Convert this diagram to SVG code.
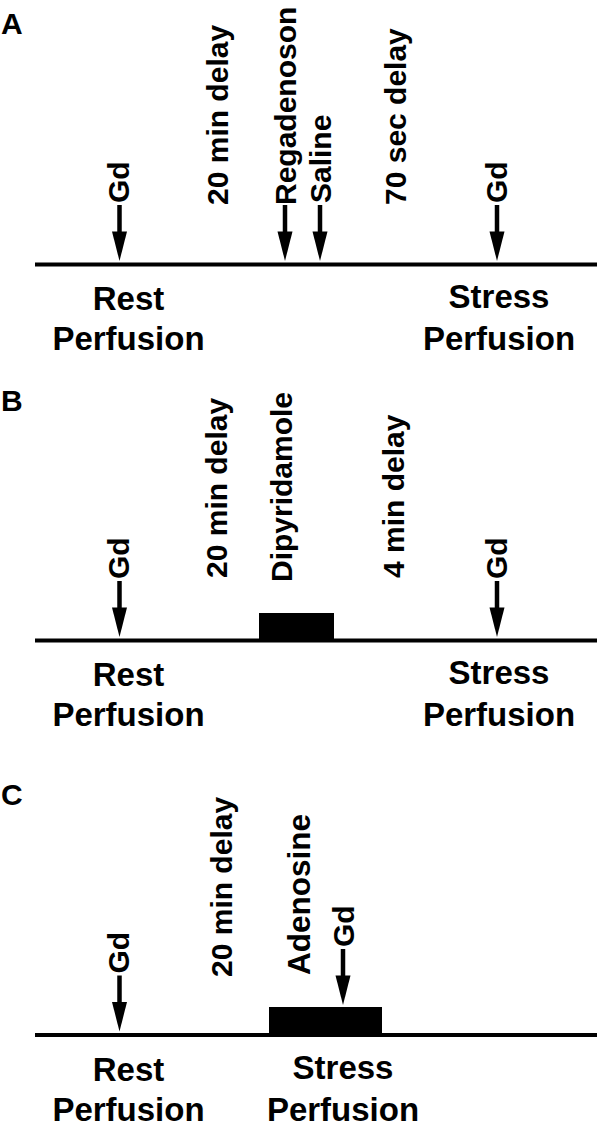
<svg xmlns="http://www.w3.org/2000/svg" xmlns:xlink="http://www.w3.org/1999/xlink" width="600" height="1127" viewBox="0 0 600 1127">
<style>
text{font-family:"Liberation Sans",Arial,sans-serif;font-weight:bold;fill:#000}
.panel{font-size:30px}
.rot{font-size:30px}
.lbl{font-size:33px;text-anchor:middle}
.axis{stroke:#000;stroke-width:4;fill:none}
.blk{fill:#000}
</style>
<defs>
<g id="arrow">
<path d="M0,-56 V-28" stroke="#000" stroke-width="4.5" fill="none"/>
<polygon points="-7.5,-29.5 7.5,-29.5 0,0" fill="#000"/>
</g>
</defs>
<rect width="600" height="1127" fill="#fff"/>

<!-- Panel A -->
<g id="panelA">
<text id="labelA" class="panel" x="1" y="34">A</text>
<g id="A-gd-rest"><text class="rot" transform="translate(129,203) rotate(-90)">Gd</text></g>
<g id="A-delay20"><text class="rot" transform="translate(228,205) rotate(-90)">20 min delay</text></g>
<g id="A-regadenoson"><text class="rot" transform="translate(296,205) rotate(-90)">Regadenoson</text></g>
<g id="A-saline"><text class="rot" transform="translate(331,203) rotate(-90)">Saline</text></g>
<g id="A-delay70"><text class="rot" transform="translate(406,205) rotate(-90)">70 sec delay</text></g>
<g id="A-gd-stress"><text class="rot" transform="translate(507,203) rotate(-90)">Gd</text></g>
<g id="A-rest"><text class="lbl" x="128.5" y="310">Rest</text><text class="lbl" x="128.5" y="350">Perfusion</text></g>
<g id="A-stress"><text class="lbl" x="499" y="308">Stress</text><text class="lbl" x="499" y="350">Perfusion</text></g>
</g>

<!-- Panel B -->
<g id="panelB">
<text id="labelB" class="panel" x="1" y="411">B</text>
<g id="B-gd-rest"><text class="rot" transform="translate(129,579) rotate(-90)">Gd</text></g>
<g id="B-delay20"><text class="rot" transform="translate(227,578) rotate(-90)">20 min delay</text></g>
<g id="B-dipyridamole"><text class="rot" transform="translate(292,582) rotate(-90)">Dipyridamole</text>
<rect class="blk" x="259" y="613" width="75" height="28"/></g>
<g id="B-delay4"><text class="rot" transform="translate(404,578) rotate(-90)">4 min delay</text></g>
<g id="B-gd-stress"><text class="rot" transform="translate(507,579) rotate(-90)">Gd</text></g>
<g id="B-rest"><text class="lbl" x="128.5" y="686">Rest</text><text class="lbl" x="128.5" y="726">Perfusion</text></g>
<g id="B-stress"><text class="lbl" x="499" y="684">Stress</text><text class="lbl" x="499" y="726">Perfusion</text></g>
</g>

<!-- Panel C -->
<g id="panelC">
<text id="labelC" class="panel" x="1" y="805">C</text>
<g id="C-gd-rest"><text class="rot" transform="translate(129,973.5) rotate(-90)">Gd</text></g>
<g id="C-delay20"><text class="rot" transform="translate(232,977) rotate(-90)">20 min delay</text></g>
<g id="C-adenosine"><text class="rot" style="font-size:31.5px" transform="translate(310,975) rotate(-90)">Adenosine</text>
<rect class="blk" x="269" y="1007" width="113" height="28"/></g>
<g id="C-gd-stress"><text class="rot" transform="translate(354,947) rotate(-90)">Gd</text></g>
<g id="C-rest"><text class="lbl" x="128.5" y="1080.5">Rest</text><text class="lbl" x="128.5" y="1120.5">Perfusion</text></g>
<g id="C-stress"><text class="lbl" x="343" y="1078.5">Stress</text><text class="lbl" x="343" y="1120.5">Perfusion</text></g>
</g>

<!-- Connectors: timelines and arrows -->
<g id="connectors">
<line class="axis" x1="35" y1="264.5" x2="597" y2="264.5"/>
<line class="axis" x1="35" y1="640.5" x2="597" y2="640.5"/>
<line class="axis" x1="35" y1="1035" x2="597" y2="1035"/>
<use xlink:href="#arrow" x="119.5" y="261"/>
<use xlink:href="#arrow" x="285" y="261"/>
<use xlink:href="#arrow" x="320" y="261"/>
<use xlink:href="#arrow" x="497" y="261"/>
<use xlink:href="#arrow" x="119.5" y="637"/>
<use xlink:href="#arrow" x="497" y="637"/>
<use xlink:href="#arrow" x="119.5" y="1031.5"/>
<use xlink:href="#arrow" x="343" y="1005"/>
</g>
</svg>
